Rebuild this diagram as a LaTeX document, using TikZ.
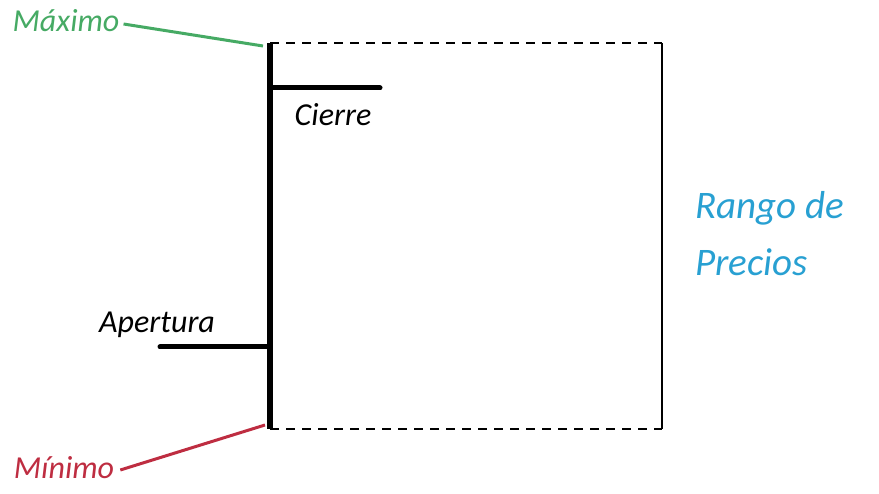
\documentclass[tikz,border=0pt]{standalone}
\usepackage{fontspec}
\setmainfont{Carlito}
\usetikzlibrary{positioning}

\definecolor{maxgreen}{RGB}{70,170,100}
\definecolor{minred}{RGB}{190,45,65}
\definecolor{rangeblue}{RGB}{40,160,210}

\begin{document}
\begin{tikzpicture}[
    x=1pt, y=-1pt,
    label/.style={font=\fontsize{32}{38}\selectfont\itshape, inner sep=0pt},
    bar/.style={line width=6pt},
    tick/.style={line width=5pt, line cap=round},
    rangeedge/.style={line width=1.4pt, dash pattern=on 9pt off 7pt},
    ]
    \useasboundingbox (0,0) rectangle (879,494);

    % range box corners
    \coordinate (high) at (270,43);
    \coordinate (low) at (270,429);
    \coordinate (highright) at (662,43);
    \coordinate (lowright) at (662,429);
    \coordinate (closeend) at (380,88);
    \coordinate (openend) at (160,347);

    \draw[rangeedge] (high) -- (highright);
    \draw[rangeedge] (low) -- (lowright);
    \draw[line width=1.4pt] (highright) -- (lowright);

    % candle
    \draw[bar] (high) -- (low);
    \draw[tick] (closeend) -- (closeend -| high);
    \draw[tick] (openend) -- (openend -| high);

    \node[label] (cierre) at (333,115) {Cierre};
    \node[label] (apertura) at (157,325) {Apertura};
    \node[label, text=maxgreen] (maximo) at (66,21) {Máximo};
    \node[label, text=minred] (minimo) at (64,468) {Mínimo};
    \node[label, text=rangeblue, align=left, anchor=west,
        font=\fontsize{39}{57}\selectfont\itshape] (rango) at (695,234) {Rango de\\Precios};

    \draw[maxgreen, line width=3pt] (maximo.east) ++(4,3) -- ([xshift=-7pt,yshift=-3pt]high);
    \draw[minred, line width=3pt] (minimo.east) ++(6,2) -- ([xshift=-5pt,yshift=4pt]low);
\end{tikzpicture}
\end{document}
